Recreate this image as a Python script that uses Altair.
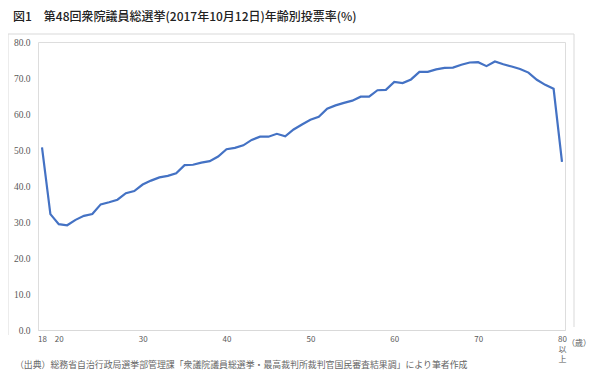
import altair as alt
import pandas as pd

ages = list(range(18, 81))  # 80 = 80以上
rates = [50.7, 32.2, 29.4, 29.1, 30.6, 31.7, 32.2, 34.9, 35.5, 36.2,
         38.0, 38.6, 40.4, 41.5, 42.4, 42.8, 43.5, 45.8, 45.9, 46.5,
         46.9, 48.2, 50.2, 50.6, 51.3, 52.8, 53.7, 53.7, 54.5, 53.8,
         55.7, 57.1, 58.4, 59.2, 61.5, 62.4, 63.1, 63.7, 64.8, 64.8,
         66.6, 66.7, 68.9, 68.6, 69.6, 71.7, 71.7, 72.4, 72.8, 72.9,
         73.7, 74.3, 74.4, 73.3, 74.6, 73.8, 73.2, 72.5, 71.5, 69.5,
         68.1, 67.0, 46.7]
x_ticks = [18, 20, 30, 40, 50, 60, 70, 80]
y_ticks = [0, 10, 20, 30, 40, 50, 60, 70, 80]

title_text = "図1　第48回衆院議員総選挙(2017年10月12日)年齢別投票率(%)"
source_text = "（出典）総務省自治行政局選挙部管理課「衆議院議員総選挙・最高裁判所裁判官国民審査結果調」により筆者作成"
unit_text = "（歳）"

df = pd.DataFrame({"age": ages, "rate": rates})
one = pd.DataFrame({"k": [0]})

W, H = 527, 288
GRAY = "#595959"

line = alt.Chart(df).mark_line(color="#4472C4", strokeWidth=2.2).encode(
    x=alt.X("age:Q",
            scale=alt.Scale(domain=[17.523, 80.358], nice=False, zero=False),
            axis=alt.Axis(values=x_ticks, title=None, grid=False, ticks=False,
                          domainColor="#d9d9d9", domainWidth=1,
                          labelFont="Noto Sans CJK JP", labelFontSize=8,
                          labelColor=GRAY, labelPadding=5,
                          labelLineHeight=10,
                          labelExpr="datum.value == 80 ? ['80','以','上'] : datum.label")),
    y=alt.Y("rate:Q",
            scale=alt.Scale(domain=[0, 80], nice=False),
            axis=alt.Axis(values=y_ticks, title=None, grid=False, ticks=False,
                          domain=False, format=".1f",
                          labelFont="Liberation Serif", labelFontSize=9.5,
                          labelColor=GRAY, labelPadding=8)),
)

frame_col = "#d9d9d9"
left_rule = alt.Chart(one).mark_rule(color=frame_col, strokeWidth=1).encode(
    x=alt.value(-30), y=alt.value(-8), y2=alt.value(293))
right_rule = alt.Chart(one).mark_rule(color=frame_col, strokeWidth=1).encode(
    x=alt.value(536), y=alt.value(-8), y2=alt.value(285))
top_rule = alt.Chart(one).mark_rule(color=frame_col, strokeWidth=1).encode(
    x=alt.value(-30), x2=alt.value(536), y=alt.value(-8))

title = alt.Chart(one).mark_text(
    text=title_text, align="left", baseline="middle",
    font="Noto Sans CJK JP", fontSize=12, fontWeight=500, color="#222222"
).encode(x=alt.value(-25), y=alt.value(-25))

unit = alt.Chart(one).mark_text(
    text=unit_text, align="center", baseline="middle",
    font="Noto Sans CJK JP", fontSize=8, color=GRAY
).encode(x=alt.value(541), y=alt.value(302))

source = alt.Chart(one).mark_text(
    text=source_text, align="left", baseline="middle",
    font="Noto Sans CJK JP", fontSize=8.9, color="#666666"
).encode(x=alt.value(-23), y=alt.value(323))

chart = alt.layer(left_rule, right_rule, top_rule, line, title, unit, source).properties(
    width=W, height=H,
    autosize=alt.AutoSizeParams(type="none"),
    padding={"left": 30, "top": 34, "right": 27, "bottom": 43},
).configure_view(stroke=None).configure(background="white")

chart.save("out.html", embed_options={"renderer": "svg", "actions": False})
